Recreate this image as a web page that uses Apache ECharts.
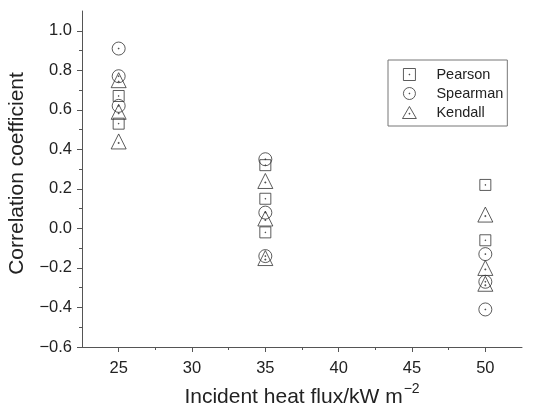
<!DOCTYPE html>
<html>
<head>
<meta charset="utf-8">
<script src="https://cdn.jsdelivr.net/npm/echarts@6/dist/echarts.min.js"></script>
<style>
  html, body { margin: 0; padding: 0; background: #fff; }
  #main { width: 536px; height: 410px; }
</style>
</head>
<body>
<div id="main"></div>
<script>
// values (x = incident heat flux, y = coefficient)
const pearsonFlux = [25, 25, 35, 35, 35, 50, 50];
const pearsonR = [0.67, 0.53, 0.32, 0.15, -0.02, 0.22, -0.06];
const spearmanFlux = [25, 25, 25, 35, 35, 35, 50, 50, 50];
const spearmanR = [0.91, 0.77, 0.62, 0.35, 0.08, -0.14, -0.13, -0.27, -0.41];
const kendallFlux = [25, 25, 25, 35, 35, 35, 50, 50, 50];
const kendallR = [0.75, 0.59, 0.44, 0.24, 0.05, -0.15, 0.07, -0.20, -0.28];

const xTicks = [25, 30, 35, 40, 45, 50];
const xMinorTicks = [27.5, 32.5, 37.5, 42.5, 47.5];
const yTicks = [-0.6, -0.4, -0.2, 0, 0.2, 0.4, 0.6, 0.8, 1.0];
const yMinorTicks = [-0.5, -0.3, -0.1, 0.1, 0.3, 0.5, 0.7, 0.9];

// open markers with a dot in the middle
const dot = (cx, cy) => ' M' + (cx - 0.3) + ',' + (cy - 0.3) + ' L' + (cx + 0.3) + ',' + (cy - 0.3) +
  ' L' + (cx + 0.3) + ',' + (cy + 0.3) + ' L' + (cx - 0.3) + ',' + (cy + 0.3) + ' Z';
const squareSym = 'path://M0,0 L10,0 L10,10 L0,10 Z' + dot(5, 5);
const circleSym = 'path://M0,5 A5,5 0 1,1 10,5 A5,5 0 1,1 0,5 Z' + dot(5, 5);
const triangleSym = 'path://M5,0 L10,8.66 L0,8.66 Z' + dot(5, 5.2);

const font = '"Liberation Sans", Arial, Helvetica, sans-serif';
const ink = '#333';
const axisColor = '#555';

function pairs(xs, ys) {
  return xs.map(function (x, i) { return [x, ys[i]]; });
}

function fmtY(v) {
  return v.toFixed(1).replace('-', '\u2212');
}

const chart = echarts.init(document.getElementById('main'), null, { renderer: 'canvas' });

const markerStyle = {
  color: 'none',
  borderColor: ink,
  borderWidth: 1
};

const option = {
  backgroundColor: '#fff',
  animation: false,
  textStyle: { fontFamily: font },
  grid: { left: 82, right: 14, top: 11, bottom: 63, containLabel: false, outerBoundsMode: 'none' },
  legend: {
    orient: 'vertical',
    left: 388,
    top: 60,
    padding: [6, 4, 5, 12],
    itemWidth: 14,
    itemHeight: 12,
    itemGap: 2,
    borderColor: '#777',
    borderWidth: 1,
    itemStyle: { color: 'none', borderColor: ink, borderWidth: 1 },
    textStyle: { fontSize: 14.5, color: '#222', fontFamily: font, padding: [0, 0, 0, 15] },
    data: ['Pearson', 'Spearman', 'Kendall']
  },
  xAxis: [{
    type: 'value',
    min: 22.5,
    max: 52.5,
    position: 'bottom',
    name: 'Incident heat flux/kW m{sup|\u22122}',
    nameLocation: 'middle',
    nameGap: 33,
    nameTextStyle: {
      fontSize: 21, color: '#222', fontFamily: font,
      rich: { sup: { fontSize: 14, color: '#222', fontFamily: font, padding: [0, 0, 16, 1] } }
    },
    splitLine: { show: false },
    axisLine: { onZero: false, lineStyle: { color: axisColor, width: 1 } },
    axisTick: { customValues: xTicks, length: 5, lineStyle: { color: axisColor } },
    axisLabel: { customValues: xTicks, fontSize: 16.5, color: '#222', margin: 13, fontFamily: font }
  }, {
    type: 'value',
    min: 22.5,
    max: 52.5,
    position: 'bottom',
    splitLine: { show: false },
    axisLine: { show: false, onZero: false },
    axisTick: { customValues: xMinorTicks, length: 3, lineStyle: { color: axisColor } },
    axisLabel: { show: false }
  }],
  yAxis: [{
    type: 'value',
    min: -0.6,
    max: 1.1,
    position: 'left',
    name: 'Correlation coefficient',
    nameLocation: 'middle',
    nameGap: 54,
    nameTextStyle: { fontSize: 21, color: '#222', fontFamily: font, padding: [0, 0, 0, 11] },
    splitLine: { show: false },
    axisLine: { show: true, onZero: false, lineStyle: { color: axisColor, width: 1 } },
    axisTick: { show: true, customValues: yTicks, length: 5, lineStyle: { color: axisColor } },
    axisLabel: { customValues: yTicks, fontSize: 16.5, color: '#222', margin: 10, fontFamily: font, formatter: fmtY }
  }, {
    type: 'value',
    min: -0.6,
    max: 1.1,
    position: 'left',
    splitLine: { show: false },
    axisLine: { show: false, onZero: false },
    axisTick: { show: true, customValues: yMinorTicks, length: 3, lineStyle: { color: axisColor } },
    axisLabel: { show: false }
  }],
  series: [{
    name: 'Pearson',
    type: 'scatter',
    symbol: squareSym,
    symbolSize: 11,
    itemStyle: markerStyle,
    data: pairs(pearsonFlux, pearsonR)
  }, {
    name: 'Spearman',
    type: 'scatter',
    symbol: circleSym,
    symbolSize: 13,
    itemStyle: markerStyle,
    data: pairs(spearmanFlux, spearmanR)
  }, {
    name: 'Kendall',
    type: 'scatter',
    symbol: triangleSym,
    symbolSize: 15,
    itemStyle: markerStyle,
    data: pairs(kendallFlux, kendallR)
  }]
};

chart.setOption(option);
</script>
</body>
</html>
